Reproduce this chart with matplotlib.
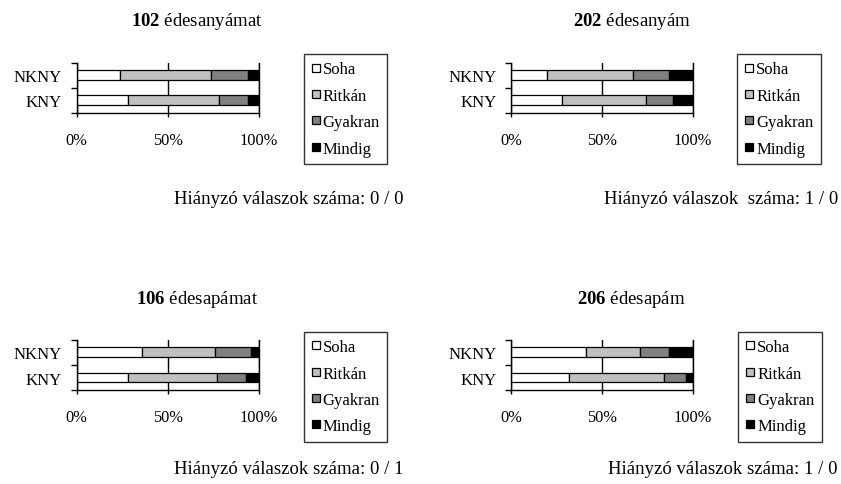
import matplotlib
matplotlib.use("Agg")
import matplotlib.pyplot as plt
from matplotlib.lines import Line2D
from matplotlib.ticker import FixedLocator

plt.rcParams["font.family"] = ["Liberation Serif", "DejaVu Serif"]
plt.rcParams["mathtext.fontset"] = "custom"
plt.rcParams["mathtext.rm"] = "Liberation Serif"
plt.rcParams["mathtext.bf"] = "Liberation Serif:bold"

W, H = 841, 485

# categories, bottom to top
categories = ["KNY", "NKNY"]
series_names = ["Soha", "Ritkán", "Gyakran", "Mindig"]
series_colors = ["white", "#c0c0c0", "#808080", "black"]

panel_numbers = ["102", "202", "106", "206"]
panel_words = ["édesanyámat", "édesanyám", "édesapámat", "édesapám"]
missing_texts = [
    "Hiányzó válaszok száma: 0 / 0",
    "Hiányzó válaszok  száma: 1 / 0",
    "Hiányzó válaszok száma: 0 / 1",
    "Hiányzó válaszok száma: 1 / 0",
]

# percentages per panel, [KNY, NKNY]
soha = [[28, 24], [28, 20], [28, 36], [32, 41]]
ritkan = [[50, 50], [46, 47], [49, 40], [52, 30]]
gyakran = [[16, 20], [15, 20], [16, 20], [12, 16]]
mindig = [[6, 6], [11, 13], [7, 4], [4, 13]]

x_ticks = [0, 50, 100]
x_ticklabels = ["0%", "50%", "100%"]

# pixel layout: axes (left, top), legend (left, top), title centre, note right edge
axes_pos = [(76.7, 63.5), (511, 63.5), (76.7, 340.7), (511, 340.7)]
ax_w, ax_h = 181.8, 50.5
legend_pos = [(303.5, 55), (737, 55), (303.5, 332.7), (738, 332.7)]
title_pos = [(197, 22), (631.5, 22), (197, 299), (631, 299)]
note_pos = [(403, 200), (838, 200), (403, 470), (838, 470)]


def fx(x):
    return x / W


def fy(y):
    return 1 - y / H


fig = plt.figure(figsize=(W / 100, H / 100), dpi=100)

for i in range(4):
    left, top = axes_pos[i]
    ax = fig.add_axes([fx(left), fy(top + ax_h), ax_w / W, ax_h / H])

    values = [soha[i], ritkan[i], gyakran[i], mindig[i]]
    lefts = [0, 0]
    for name, color, vals in zip(series_names, series_colors, values):
        ax.barh(categories, vals, left=lefts, height=0.39, color=color,
                edgecolor="black", linewidth=0.9, label=name)
        lefts = [l + v for l, v in zip(lefts, vals)]

    ax.set_xlim(0, 100)
    ax.set_ylim(-0.5, 1.5)
    ax.set_xticks(x_ticks)
    ax.set_xticklabels(x_ticklabels)
    ax.xaxis.grid(True, color="black", linewidth=1.0)
    ax.set_axisbelow(True)
    ax.spines["top"].set_visible(False)
    for s in ["left", "bottom", "right"]:
        ax.spines[s].set_linewidth(1.0)
    ax.tick_params(axis="x", length=3, width=1.0, pad=10.5, labelsize=11.8)
    ax.tick_params(axis="y", which="major", length=0, pad=10.5, labelsize=12)
    ax.yaxis.set_minor_locator(FixedLocator([-0.5, 0.5, 1.5]))
    ax.tick_params(axis="y", which="minor", length=4, width=1.0)

    handles = [Line2D([], [], linestyle="none", marker="s", markersize=5.6,
                      markerfacecolor=c, markeredgecolor="black",
                      markeredgewidth=0.9) for c in series_colors]
    lx, ly = legend_pos[i]
    leg = fig.legend(handles=handles, labels=series_names, loc="upper left",
                     bbox_to_anchor=(fx(lx), fy(ly)), borderaxespad=0,
                     fontsize=12, frameon=True, fancybox=False,
                     edgecolor="black", handlelength=0.55, handleheight=0.7,
                     handletextpad=0.15, labelspacing=0.62, borderpad=0.45)
    leg.get_frame().set_linewidth(1.0)

    tx, ty = title_pos[i]
    fig.text(fx(tx), fy(ty), r"$\mathbf{" + panel_numbers[i] + "}$ " + panel_words[i],
             ha="center", va="center", fontsize=13.5)

    nx, ny = note_pos[i]
    fig.text(fx(nx), fy(ny), missing_texts[i], ha="right", va="center", fontsize=13.5)

fig.savefig("out.png", dpi=100)
